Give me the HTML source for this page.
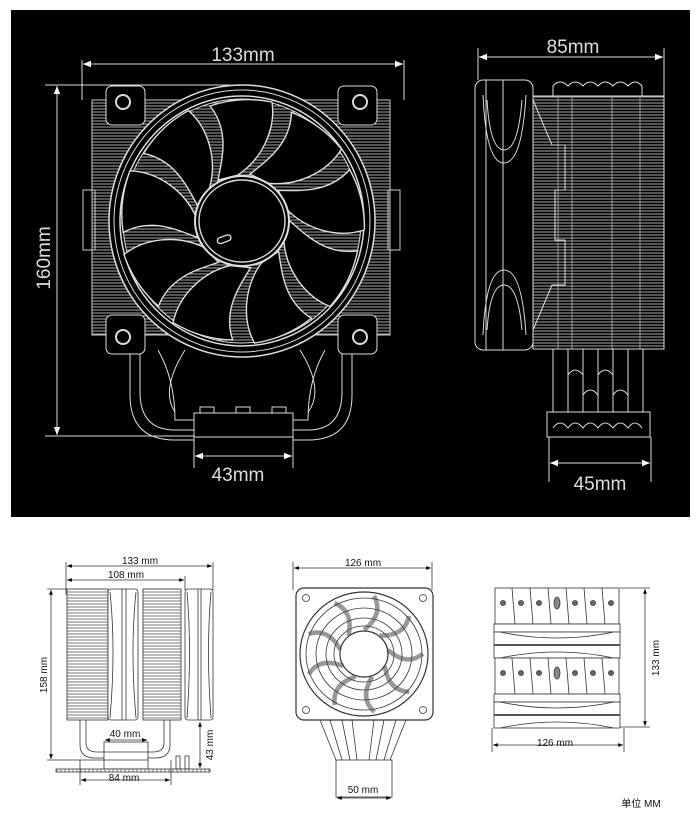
<!DOCTYPE html>
<html><head><meta charset="utf-8"><style>
html,body{margin:0;padding:0;background:#fff;width:700px;height:830px;overflow:hidden}
svg{display:block}
</style></head><body>
<svg width="700" height="830" viewBox="0 0 700 830" xmlns="http://www.w3.org/2000/svg">
<defs>
<pattern id="hw" width="4" height="3" patternUnits="userSpaceOnUse"><rect width="4" height="3" fill="#000"/><line x1="0" y1="1" x2="4" y2="1" stroke="#bbb" stroke-width="0.9"/></pattern>
<pattern id="hk" width="4" height="3" patternUnits="userSpaceOnUse"><rect width="4" height="3" fill="#fff"/><line x1="0" y1="1" x2="4" y2="1" stroke="#555" stroke-width="0.8"/></pattern>
<pattern id="vk" width="4" height="4" patternUnits="userSpaceOnUse"><rect width="4" height="4" fill="#fff"/><line x1="1" y1="0" x2="1" y2="4" stroke="#666" stroke-width="0.8"/></pattern>
<marker id="aw" viewBox="0 0 10 10" refX="10" refY="5" markerWidth="10" markerHeight="8" orient="auto-start-reverse"><path d="M0,1 L10,5 L0,9 Z" fill="#fff"/></marker>
<marker id="ak" viewBox="0 0 10 10" refX="10" refY="5" markerWidth="7" markerHeight="6" orient="auto-start-reverse"><path d="M0,1 L10,5 L0,9 Z" fill="#000"/></marker>
</defs>

<!-- TOP PANEL -->
<rect x="11" y="10" width="679" height="507" fill="#000"/>
<g stroke="#ddd" fill="none" stroke-width="1">
  <!-- front fin body -->
  <rect x="92" y="100" width="298" height="235" fill="url(#hw)" stroke="#ccc"/>
  <rect x="83" y="190" width="12" height="60" stroke="#ccc"/>
  <rect x="388" y="190" width="12" height="60" stroke="#ccc"/>
  <!-- heatpipes -->
  <path d="M130,350 L130,395 Q130,440 175,440 L194,440"/>
  <path d="M140,350 L140,392 Q140,430 175,430 L194,430"/>
  <path d="M158,350 Q175,380 175,420 L194,420"/>
  <path d="M352,350 L352,395 Q352,440 308,440 L293,440"/>
  <path d="M342,350 L342,392 Q342,430 308,430 L293,430"/>
  <path d="M325,350 Q308,380 308,420 L293,420"/>
  <path d="M185,350 Q160,390 175,412"/><path d="M300,350 Q325,390 308,412"/>
  <rect x="194" y="413" width="99" height="24" fill="#000"/>
  <rect x="200" y="407" width="14" height="6"/><rect x="236" y="407" width="14" height="6"/><rect x="272" y="407" width="14" height="6"/>
  <!-- corners -->
  <rect x="106" y="86" width="39" height="39" rx="6" fill="#000"/>
  <rect x="338" y="86" width="39" height="39" rx="6" fill="#000"/>
  <rect x="106" y="315" width="39" height="39" rx="6" fill="#000"/>
  <rect x="338" y="315" width="39" height="39" rx="6" fill="#000"/>
  <circle cx="123" cy="102" r="7" stroke-width="2"/><circle cx="360" cy="102" r="7" stroke-width="2"/>
  <circle cx="123" cy="337" r="7" stroke-width="2"/><circle cx="360" cy="337" r="7" stroke-width="2"/>
  <!-- fan -->
  <ellipse cx="242" cy="221" rx="133" ry="136" fill="#000" stroke-width="1.5"/>
  <ellipse cx="242" cy="221" rx="128" ry="131"/>
  <ellipse cx="242" cy="221" rx="122" ry="125" stroke-width="1.5"/>
  <ellipse cx="242" cy="221" rx="119" ry="122" fill="url(#hw)"/>
</g>
<g transform="translate(242,221)" stroke="#ddd" stroke-width="1.4" fill="#000">
  <path id="bl" d="M-4,-46 C20,-62 34,-92 30,-119 A120,120 0 0 0 -32,-115 C-12,-90 -20,-62 -24,-41 Z"/>
  <use href="#bl" transform="rotate(40)"/><use href="#bl" transform="rotate(80)"/>
  <use href="#bl" transform="rotate(120)"/><use href="#bl" transform="rotate(160)"/>
  <use href="#bl" transform="rotate(200)"/><use href="#bl" transform="rotate(240)"/>
  <use href="#bl" transform="rotate(280)"/><use href="#bl" transform="rotate(320)"/>
  <ellipse cx="0" cy="0" rx="47" ry="45" stroke-width="2"/>
  <ellipse cx="0" cy="0" rx="43" ry="41"/>
  <rect x="-30" y="8" width="14" height="6" rx="3" transform="rotate(-20)"/>
</g>

<!-- top dims -->
<g stroke="#ddd" stroke-width="1" fill="none">
  <line x1="82" y1="60" x2="82" y2="100"/><line x1="404" y1="60" x2="404" y2="100"/>
  <line x1="83" y1="64" x2="403" y2="64" marker-start="url(#aw)" marker-end="url(#aw)"/>
  <line x1="45" y1="85" x2="230" y2="85"/><line x1="45" y1="436" x2="194" y2="436"/>
  <line x1="57" y1="86" x2="57" y2="435" marker-start="url(#aw)" marker-end="url(#aw)"/>
  <line x1="194" y1="437" x2="194" y2="468"/><line x1="293" y1="437" x2="293" y2="468"/>
  <line x1="195" y1="456" x2="292" y2="456" marker-start="url(#aw)" marker-end="url(#aw)"/>
</g>
<g fill="#ddd" font-family="Liberation Sans, sans-serif" font-size="19" text-anchor="middle">
  <text x="243" y="61">133mm</text>
  <text x="238" y="481">43mm</text>
  <text x="0" y="0" transform="translate(50,258) rotate(-90)">160mm</text>
  <text x="573" y="53">85mm</text>
  <text x="600" y="490">45mm</text>
</g>

<!-- side view -->
<g stroke="#ddd" stroke-width="1" fill="none">
  <rect x="533" y="96" width="131" height="253" fill="url(#hw)"/>
  <line x1="558" y1="96" x2="558" y2="349" stroke="#999"/><line x1="572" y1="96" x2="572" y2="349" stroke="#999"/>
  <line x1="612" y1="96" x2="612" y2="349" stroke="#999"/><line x1="640" y1="96" x2="640" y2="349" stroke="#999"/>
  <path d="M553,96 L553,86 Q560,78 568,86 Q575,78 583,86 Q590,78 598,86 Q605,78 613,86 Q620,78 628,86 Q635,78 642,86 L642,96"/>
  <rect x="475" y="80" width="58" height="270" rx="8" fill="#000"/>
  <line x1="503" y1="80" x2="503" y2="350"/><line x1="486" y1="80" x2="486" y2="350"/>
  <path d="M487,100 Q490,150 504,150 Q518,150 522,100"/>
  <path d="M483,95 Q486,163 504,163 Q522,163 526,95"/>
  <path d="M487,330 Q490,285 504,285 Q518,285 522,330"/>
  <path d="M483,335 Q486,270 504,270 Q522,270 526,335"/>
  <path d="M533,100 L552,145 L565,145 L565,190 L555,190 L555,240 L565,240 L565,285 L552,285 L533,330"/>
  <rect x="553" y="349" width="90" height="63" fill="#000"/>
  <line x1="568" y1="349" x2="568" y2="412"/><line x1="583" y1="349" x2="583" y2="412"/><line x1="598" y1="349" x2="598" y2="412"/>
  <line x1="613" y1="349" x2="613" y2="412"/><line x1="628" y1="349" x2="628" y2="412"/>
  <path d="M568,375 Q575,365 583,375 M598,375 Q605,365 613,375 M583,395 Q590,385 598,395 M613,395 Q620,385 628,395"/>
  <path d="M547,412 L650,412 L650,437 L547,437 Z" fill="#000"/>
  <path d="M553,428 Q560,418 568,428 Q575,418 583,428 Q590,418 598,428 Q605,418 613,428 Q620,418 628,428 Q635,418 642,428"/>
  <line x1="478" y1="48" x2="478" y2="80"/><line x1="664" y1="48" x2="664" y2="96"/>
  <line x1="479" y1="57" x2="663" y2="57" marker-start="url(#aw)" marker-end="url(#aw)"/>
  <line x1="549" y1="437" x2="549" y2="482"/><line x1="651" y1="437" x2="651" y2="482"/>
  <line x1="550" y1="463" x2="650" y2="463" marker-start="url(#aw)" marker-end="url(#aw)"/>
</g>

<!-- BOTTOM: left view -->
<g stroke="#333" stroke-width="0.8" fill="none">
  <rect x="67" y="589" width="41" height="131" fill="url(#hk)"/>
  <rect x="143" y="589" width="38" height="131" fill="url(#hk)"/>
  <rect x="108" y="589" width="30" height="131" rx="3" fill="#fff"/>
  <rect x="185" y="589" width="28" height="131" rx="3" fill="#fff"/>
  <path d="M110,592 Q116,650 110,718 M136,592 Q130,650 136,718 M122,589 L122,720 M126,589 L126,720"/>
  <path d="M187,592 Q192,650 187,718 M211,592 Q206,650 211,718 M198,589 L198,720 M201,589 L201,720"/>
  <path d="M80,720 L80,745 Q80,758 95,758 L104,758 M86,720 L86,743 Q86,752 97,752 L104,752"/>
  <path d="M170,720 L170,745 Q170,758 155,758 L148,758 M164,720 L164,743 Q164,752 153,752 L148,752"/>
  <rect x="104" y="742" width="44" height="27" fill="#fff"/>
  <line x1="104" y1="752" x2="148" y2="752"/><line x1="104" y1="760" x2="148" y2="760"/>
  <rect x="56" y="769" width="154" height="3" fill="url(#vk)"/>
  <rect x="176" y="756" width="4" height="13"/><rect x="185" y="756" width="4" height="13"/>
  <line x1="66" y1="562" x2="66" y2="595"/><line x1="213" y1="562" x2="213" y2="590"/><line x1="185" y1="576" x2="185" y2="590"/>
  <line x1="67" y1="566" x2="212" y2="566" marker-start="url(#ak)" marker-end="url(#ak)"/>
  <line x1="67" y1="580" x2="184" y2="580" marker-start="url(#ak)" marker-end="url(#ak)"/>
  <line x1="47" y1="589" x2="67" y2="589"/><line x1="47" y1="760" x2="104" y2="760"/>
  <line x1="51" y1="590" x2="51" y2="759" marker-start="url(#ak)" marker-end="url(#ak)"/>
  <line x1="105" y1="740" x2="147" y2="740" marker-start="url(#ak)" marker-end="url(#ak)"/>
  <line x1="80" y1="760" x2="80" y2="785"/><line x1="171" y1="760" x2="171" y2="785"/>
  <line x1="81" y1="780" x2="170" y2="780" marker-start="url(#ak)" marker-end="url(#ak)"/>
  <line x1="200" y1="722" x2="200" y2="768" marker-start="url(#ak)" marker-end="url(#ak)"/>
</g>
<!-- middle view -->
<g stroke="#333" stroke-width="0.8" fill="none">
  <path d="M320,720 L336,760 M330,720 L342,760 M342,720 L350,760 M352,720 L357,760 M374,720 L369,760 M384,720 L376,760 M396,720 L384,760 M406,720 L390,760"/>
  <rect x="296" y="588" width="137" height="132" rx="8" fill="#fff" stroke-width="1.2"/>
  <circle cx="306" cy="598" r="3.5"/><circle cx="423" cy="598" r="3.5"/><circle cx="306" cy="710" r="3.5"/><circle cx="423" cy="710" r="3.5"/>
  <ellipse cx="364" cy="654" rx="64" ry="62" stroke-width="1.2"/>
  <ellipse cx="364" cy="654" rx="58" ry="56"/>
  <ellipse cx="364" cy="654" rx="48" ry="46"/>
  <ellipse cx="364" cy="654" rx="38" ry="36"/>
  <ellipse cx="364" cy="654" rx="30" ry="28"/>
  <ellipse cx="364" cy="654" rx="24" ry="23" stroke-width="1.2"/>
  <g transform="translate(364,654)" stroke="#444" stroke-width="4.5" opacity="0.55">
    <path id="mb" d="M0,-24 Q20,-40 10,-58"/>
    <use href="#mb" transform="rotate(40)"/><use href="#mb" transform="rotate(80)"/><use href="#mb" transform="rotate(120)"/>
    <use href="#mb" transform="rotate(160)"/><use href="#mb" transform="rotate(200)"/><use href="#mb" transform="rotate(240)"/>
    <use href="#mb" transform="rotate(280)"/><use href="#mb" transform="rotate(320)"/>
  </g>
  <rect x="336" y="760" width="56" height="37" fill="#fff"/>
  <line x1="293" y1="562" x2="293" y2="590"/><line x1="432" y1="562" x2="432" y2="590"/>
  <line x1="294" y1="568" x2="431" y2="568" marker-start="url(#ak)" marker-end="url(#ak)"/>
  <line x1="337" y1="798" x2="391" y2="798" marker-start="url(#ak)" marker-end="url(#ak)"/>
</g>
<!-- right view -->
<g stroke="#333" stroke-width="0.8" fill="none">
  <g id="ru">
    <rect x="495" y="588" width="124" height="36" fill="#fff"/>
    <path d="M512,588 L515,624 M530,588 L533,624 M548,588 L551,624 M566,588 L569,624 M584,588 L587,624 M602,588 L605,624"/>
    <circle cx="503" cy="603" r="2.5" fill="#666"/><circle cx="521" cy="603" r="2.5" fill="#666"/><circle cx="539" cy="603" r="2.5" fill="#666"/>
    <circle cx="575" cy="603" r="2.5" fill="#666"/><circle cx="593" cy="603" r="2.5" fill="#666"/><circle cx="611" cy="603" r="2.5" fill="#666"/>
    <ellipse cx="557" cy="603" rx="3" ry="6" fill="#888"/>
    <rect x="494" y="624" width="126" height="8" fill="#fff"/>
    <rect x="494" y="632" width="126" height="26" fill="#fff"/>
    <line x1="494" y1="645" x2="620" y2="645" stroke="#555" stroke-width="2"/>
    <path d="M500,632 Q557,644 614,632 M500,658 Q557,646 614,658"/>
  </g>
  <use href="#ru" transform="translate(0,70)"/>
  <line x1="620" y1="588" x2="650" y2="588"/><line x1="620" y1="727" x2="650" y2="727"/>
  <line x1="645" y1="589" x2="645" y2="726" marker-start="url(#ak)" marker-end="url(#ak)"/>
  <line x1="492" y1="728" x2="492" y2="752"/><line x1="624" y1="728" x2="624" y2="752"/>
  <line x1="493" y1="745" x2="623" y2="745" marker-start="url(#ak)" marker-end="url(#ak)"/>
</g>
<g fill="#111" font-family="Liberation Sans, sans-serif" font-size="10" text-anchor="middle">
  <text x="140" y="564">133 mm</text>
  <text x="126" y="578">108 mm</text>
  <text x="125" y="737">40 mm</text>
  <text x="124" y="781">84 mm</text>
  <text x="0" y="0" transform="translate(47,675) rotate(-90)">158 mm</text>
  <text x="0" y="0" transform="translate(213,745) rotate(-90)">43 mm</text>
  <text x="363" y="566">126 mm</text>
  <text x="363" y="793">50 mm</text>
  <text x="555" y="746">126 mm</text>
  <text x="0" y="0" transform="translate(659,658) rotate(-90)">133 mm</text>
  <text x="641" y="807" font-family="Liberation Sans, Noto Sans CJK SC, sans-serif">单位 MM</text>
</g>
</svg>
</body></html>
